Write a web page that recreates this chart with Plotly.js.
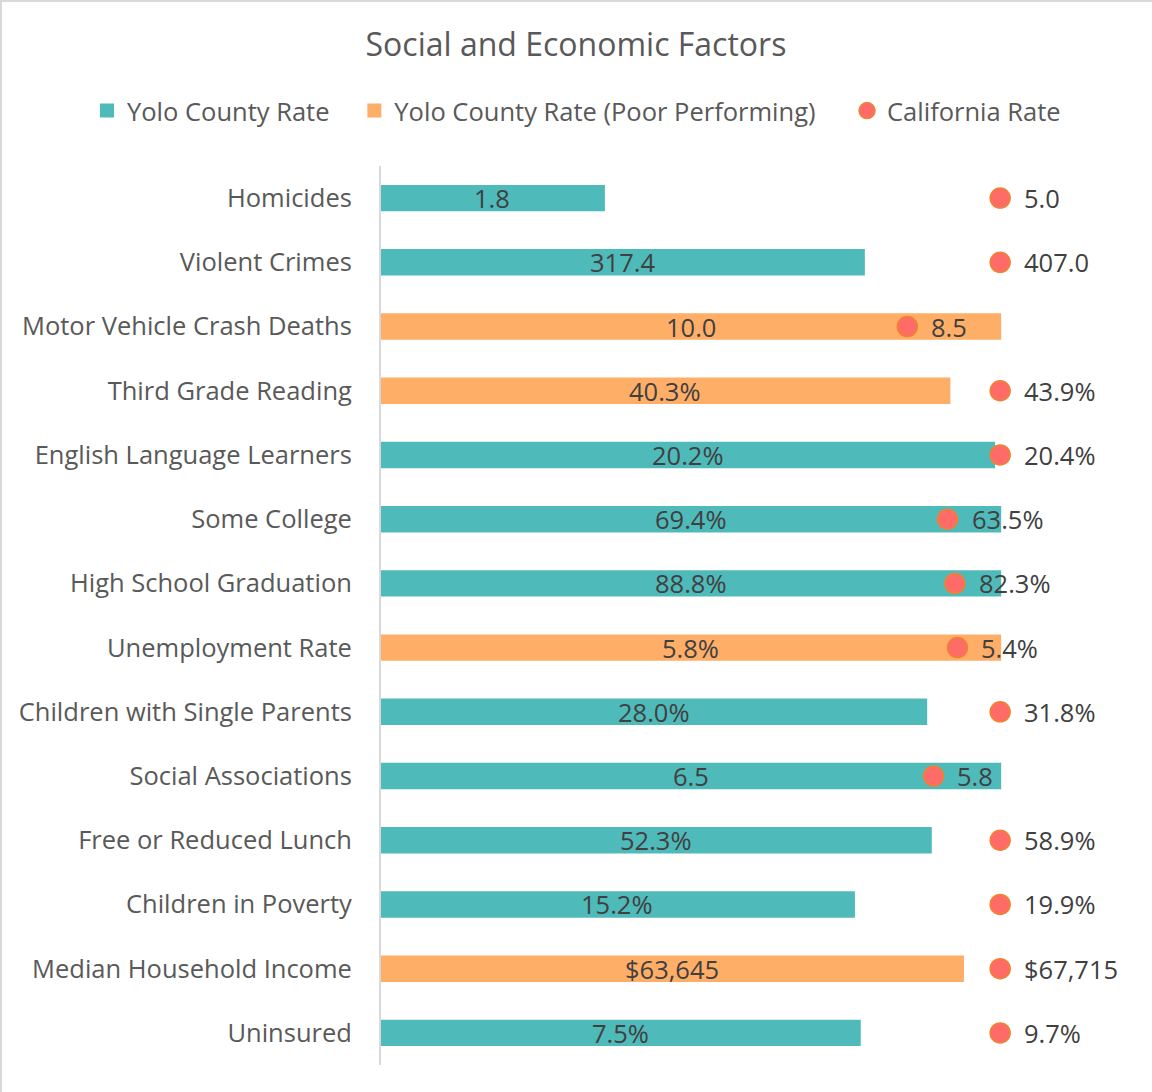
<!DOCTYPE html>
<html>
<head>
<meta charset="utf-8">
<script src="https://cdn.plot.ly/plotly-3.0.1.min.js"></script>
<style>html,body{margin:0;padding:0;background:#fff;}#chart{width:1152px;height:1092px;}</style>
</head>
<body>
<div id="chart"></div>
<script>
const categories = ["Homicides","Violent Crimes","Motor Vehicle Crash Deaths","Third Grade Reading","English Language Learners","Some College","High School Graduation","Unemployment Rate","Children with Single Parents","Social Associations","Free or Reduced Lunch","Children in Poverty","Median Household Income","Uninsured"];
const yoloValues = [1.8, 317.4, 10.0, 40.3, 20.2, 69.4, 88.8, 5.8, 28.0, 6.5, 52.3, 15.2, 63645, 7.5];
const caValues = [5.0, 407.0, 8.5, 43.9, 20.4, 63.5, 82.3, 5.4, 31.8, 5.8, 58.9, 19.9, 67715, 9.7];
const yoloLabels = ["1.8","317.4","10.0","40.3%","20.2%","69.4%","88.8%","5.8%","28.0%","6.5","52.3%","15.2%","$63,645","7.5%"];
const caLabels = ["5.0","407.0","8.5","43.9%","20.4%","63.5%","82.3%","5.4%","31.8%","5.8","58.9%","19.9%","$67,715","9.7%"];
const poorPerforming = [false,false,true,true,false,false,false,true,false,false,false,false,true,false];
const legendNames = ["Yolo County Rate","Yolo County Rate (Poor Performing)","California Rate"];

const FONT = "'Open Sans', sans-serif";
const FS = 25.5;
const TEAL = '#4FBABA', ORANGE = '#FFAE68';
const barNorm = yoloValues.map((v,i)=> v/Math.max(v, caValues[i]));
const dotNorm = caValues.map((v,i)=> v/Math.max(v, yoloValues[i]));

const traces = [
  {type:'bar', orientation:'h', name:legendNames[0]+"\u00a0\u00a0\u00a0", y:categories,
   x:barNorm.map((v,i)=> poorPerforming[i]?null:v), width:0.38,
   marker:{color:TEAL, line:{color:TEAL, width:2}}, hoverinfo:'skip'},
  {type:'bar', orientation:'h', name:legendNames[1]+"\u00a0\u00a0\u00a0\u00a0", y:categories,
   x:barNorm.map((v,i)=> poorPerforming[i]?v:null), width:0.38,
   marker:{color:ORANGE, line:{color:ORANGE, width:2}}, hoverinfo:'skip'},
  {type:'scatter', mode:'markers', name:legendNames[2], y:categories,
   x:dotNorm,
   marker:{size:20, color:'#FF6B66', line:{color:'#EF8233', width:1.5}},
   hoverinfo:'skip'}
];

const barLabelAnn = yoloLabels.map((t,i)=>({
  x:barNorm[i]/2, y:categories[i], xref:'x', yref:'y', text:t, showarrow:false,
  xanchor:'center', yanchor:'middle', yshift:0,
  font:{family:FONT, size:FS, color:'#404040'}
}));
const dotLabelAnn = caLabels.map((t,i)=>({
  x:dotNorm[i], y:categories[i], xref:'x', yref:'y', text:t, showarrow:false,
  xanchor:'left', yanchor:'middle', xshift:22, yshift:0,
  font:{family:FONT, size:FS, color:'#404040'}
}));

const layout = {
  width:1152, height:1092,
  paper_bgcolor:'#fff', plot_bgcolor:'#fff',
  margin:{l:381, r:28, t:166, b:27, autoexpand:false},
  title:{text:'Social and Economic Factors', x:0.5, xanchor:'center', xref:'container',
         y:1-45/1092, yanchor:'middle', yref:'container',
         font:{family:FONT, size:32, color:'#595959'}},
  barmode:'overlay',
  showlegend:true,
  legend:{orientation:'h', x:(87-381)/743, xanchor:'left', xref:'paper', y:1+55/899, yref:'paper',
          yanchor:'middle', font:{family:FONT, size:FS, color:'#595959'}, itemwidth:30,
          traceorder:'normal', bgcolor:'rgba(0,0,0,0)'},
  annotations:barLabelAnn.concat(dotLabelAnn),
  xaxis:{range:[0,1.2], showgrid:false, zeroline:false, showticklabels:false, showline:false, fixedrange:true},
  yaxis:{type:'category', range:[categories.length-0.5, -0.5], autorange:false, showgrid:false, zeroline:false,
         showline:true, linecolor:'#D9D9D9', linewidth:2, ticks:'', ticklabelstandoff:22,
         tickfont:{family:FONT, size:FS, color:'#595959'}},
  shapes:[
    {type:'line', xref:'paper', yref:'paper', x0:-381/743, x1:(1152-381)/743, y0:1+165/899, y1:1+165/899, line:{color:'#D9D9D9', width:2}},
    {type:'line', xref:'paper', yref:'paper', x0:-380/743, x1:-380/743, y0:-27/899, y1:1+166/899, line:{color:'#D9D9D9', width:2}}
  ]
};
Plotly.newPlot('chart', traces, layout, {displayModeBar:false, staticPlot:true});
</script>
</body>
</html>
